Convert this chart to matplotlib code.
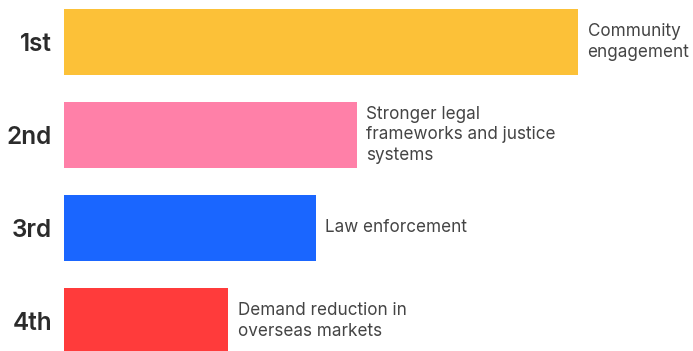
import matplotlib.pyplot as plt

plt.rcParams['font.family'] = ['Inter', 'DejaVu Sans']

# data
ranks = ['1st', '2nd', '3rd', '4th']
labels = ['Community\nengagement',
          'Stronger legal\nframeworks and justice\nsystems',
          'Law enforcement',
          'Demand reduction in\noverseas markets']
scores = [100, 57, 49, 32]

bar_colors = ['#FCC138', '#FF80A8', '#1A66FF', '#FF3B3B']

W, H = 693, 351
fig = plt.figure(figsize=(W / 100, H / 100), dpi=100)
# axes: x from 64px to 578px for 0..100, full height
ax = fig.add_axes([64 / W, 0, 514 / W, 1])
ax.set_xlim(0, 100)
ax.set_ylim((H - 42) / 93, -42 / 93)

pos = list(range(len(ranks)))
ax.barh(pos, scores, height=0.70, color=bar_colors)

for i, (s, lab) in enumerate(zip(scores, labels)):
    ax.text(s + 1.85, i, lab, va='center', ha='left', fontsize=12.3,
            color='#444444', linespacing=1.3)

ax.set_yticks(pos)
ax.set_yticklabels(ranks, fontsize=17.5, fontweight='semibold', color='#2b2b2b')
ax.tick_params(axis='y', length=0, pad=8.5)
ax.set_xticks([])
for sp in ax.spines.values():
    sp.set_visible(False)
ax.patch.set_alpha(0)

fig.savefig('out.png', dpi=100)
